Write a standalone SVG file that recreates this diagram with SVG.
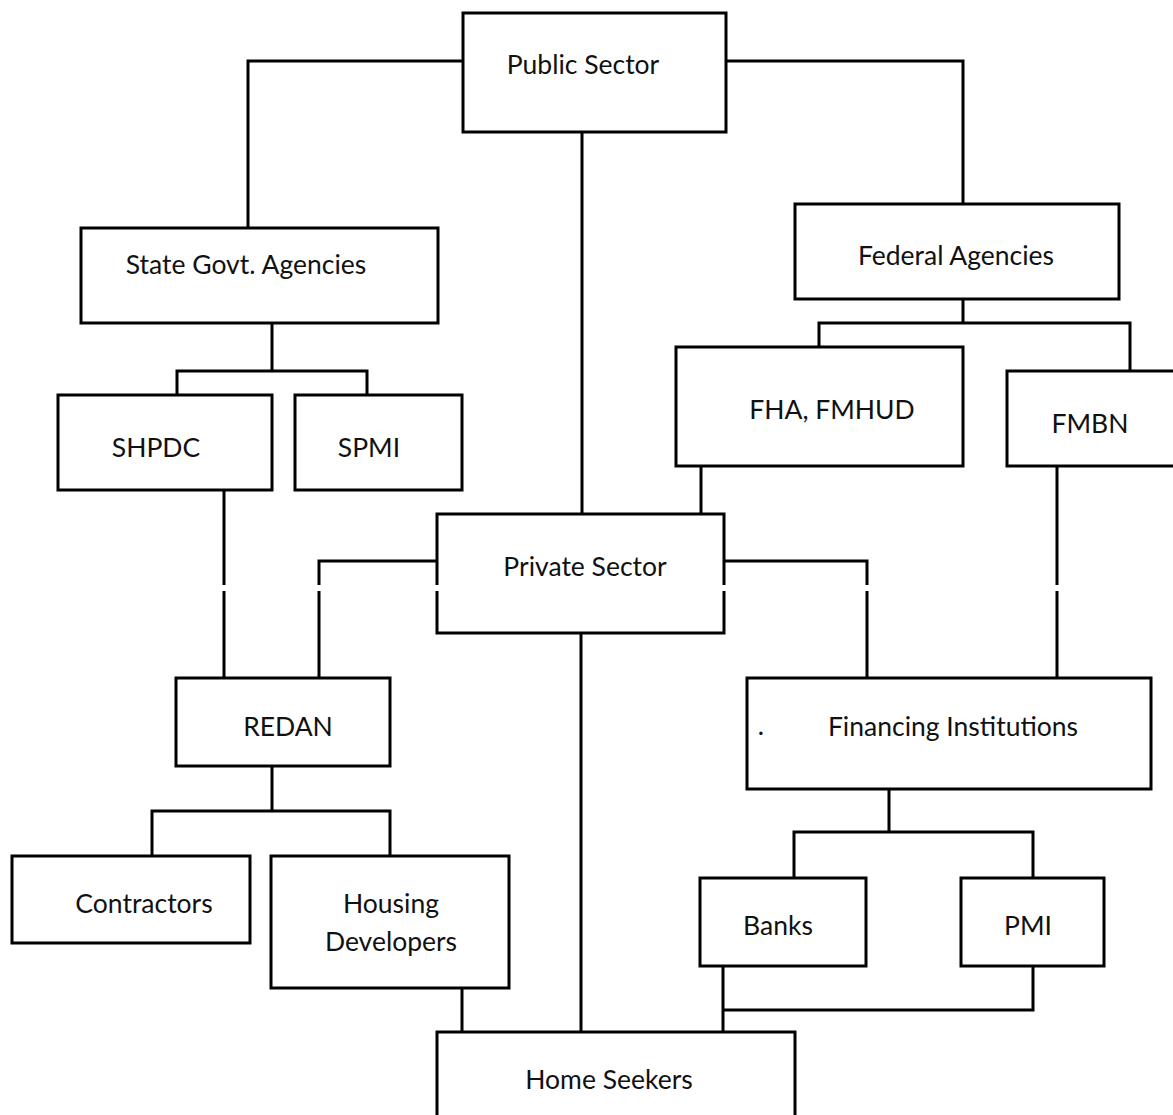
<svg xmlns="http://www.w3.org/2000/svg" width="1173" height="1115" viewBox="0 0 1173 1115">
<style>
.box{fill:#fff;stroke:#000;stroke-width:3}
.ln{fill:none;stroke:#000;stroke-width:3}
text{font-family:Lato,"Open Sans",sans-serif;font-size:26.5px;fill:#111;text-anchor:middle}
</style>
<rect width="1173" height="1115" fill="#fff"/>
<g id="connectors" class="ln">
<path d="M463,61 H248 V228"/>
<path d="M726,61 H963 V204"/>
<path d="M582,132 V514"/>
<path d="M272,323 V371 M177,395 V371 H367 V395"/>
<path d="M963,299 V323 M819,347 V323 H1130 V371"/>
<path d="M224,490 V585 M224,591 V678"/>
<path d="M437,561 H319 V585 M319,591 V678"/>
<path d="M724,561 H867 V585 M867,591 V678"/>
<path d="M1057,466 V585 M1057,591 V678"/>
<path d="M701,466 V514"/>
<path d="M581,633 V1032"/>
<path d="M272,766 V811 M152,856 V811 H390 V856"/>
<path d="M889,789 V832 M794,878 V832 H1033 V878"/>
<path d="M462,988 V1032"/>
<path d="M723,966 V1032 M1033,966 V1010 H723"/>
</g>
<g id="public-sector"><rect class="box" x="463" y="13" width="263" height="119"/><text x="583" y="74">Public Sector</text></g>
<g id="state-govt"><rect class="box" x="81" y="228" width="357" height="95"/><text x="246" y="274">State Govt. Agencies</text></g>
<g id="federal-agencies"><rect class="box" x="795" y="204" width="324" height="95"/><text x="956" y="265">Federal Agencies</text></g>
<g id="shpdc"><rect class="box" x="58" y="395" width="214" height="95"/><text x="156" y="457">SHPDC</text></g>
<g id="spmi"><rect class="box" x="295" y="395" width="167" height="95"/><text x="369" y="457">SPMI</text></g>
<g id="fha-fmhud"><rect class="box" x="676" y="347" width="287" height="119"/><text x="832" y="419">FHA, FMHUD</text></g>
<g id="fmbn"><rect class="box" x="1007" y="371" width="170" height="95"/><text x="1090" y="433">FMBN</text></g>
<g id="private-sector"><rect x="437" y="514" width="287" height="119" fill="#fff"/><path class="ln" d="M437,585 V514 H724 V585 M724,591 V633 H437 V591"/><text x="585" y="576">Private Sector</text></g>
<g id="redan"><rect class="box" x="176" y="678" width="214" height="88"/><text x="288" y="736">REDAN</text></g>
<g id="financing"><rect class="box" x="747" y="678" width="404" height="111"/><text x="761" y="735">.</text><text x="953" y="736">Financing Institutions</text></g>
<g id="contractors"><rect class="box" x="12" y="856" width="238" height="87"/><text x="144" y="913">Contractors</text></g>
<g id="housing-developers"><rect class="box" x="271" y="856" width="238" height="132"/><text x="391" y="913">Housing</text><text x="391" y="951">Developers</text></g>
<g id="banks"><rect class="box" x="700" y="878" width="166" height="88"/><text x="778" y="935">Banks</text></g>
<g id="pmi"><rect class="box" x="961" y="878" width="143" height="88"/><text x="1028" y="935">PMI</text></g>
<g id="home-seekers"><rect class="box" x="437" y="1032" width="358" height="90"/><text x="609" y="1089">Home Seekers</text></g>
</svg>
